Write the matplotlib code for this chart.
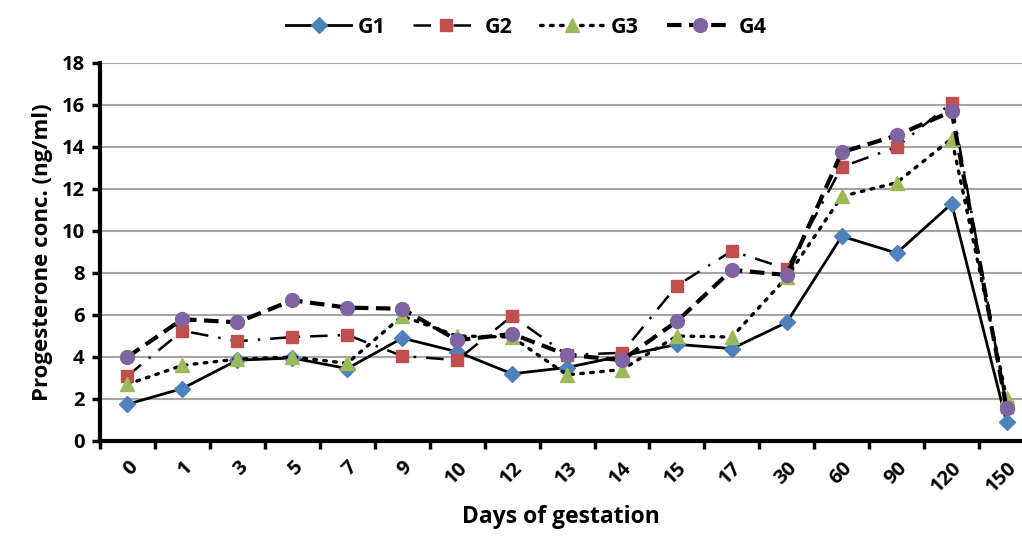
import numpy as np
import matplotlib.pyplot as plt
from matplotlib.ticker import FixedLocator

days = ['0', '1', '3', '5', '7', '9', '10', '12', '13', '14', '15', '17', '30', '60', '90', '120', '150']
g1 = [1.75, 2.5, 3.85, 3.95, 3.45, 4.9, 4.25, 3.2, 3.5, 4.05, 4.6, 4.4, 5.65, 9.75, 8.95, 11.3, 0.9]
g2 = [3.1, 5.25, 4.75, 4.95, 5.05, 4.05, 3.85, 5.95, 4.1, 4.2, 7.4, 9.05, 8.2, 13.05, 14.0, 16.1, 1.6]
g3 = [2.7, 3.6, 3.9, 4.0, 3.7, 5.95, 5.0, 4.95, 3.15, 3.4, 5.0, 4.95, 7.8, 11.65, 12.3, 14.4, 2.05]
g4 = [4.0, 5.8, 5.65, 6.7, 6.35, 6.3, 4.8, 5.1, 4.1, 3.85, 5.7, 8.15, 7.9, 13.75, 14.55, 15.7, 1.55]

plt.rcParams['font.family'] = ['Open Sans', 'DejaVu Sans']
plt.rcParams['font.weight'] = 'bold'

fig = plt.figure(figsize=(10.22, 5.42), dpi=100)
ax = fig.add_axes([100 / 1022, 101 / 542, 922 / 1022, 378 / 542])

x = np.arange(len(days))
ax.plot(x, g1, color='black', lw=2.0, ls='-', marker='D', ms=8,
        mfc='#4F81BD', mec='#4F81BD', label='G1', zorder=3)
ax.plot(x, g2, color='black', lw=1.8, ls=(0, (7, 4, 1, 4)), marker='s', ms=9,
        mfc='#C0504D', mec='#C0504D', label='G2', zorder=3)
ax.plot(x, g3, color='black', lw=2.4, ls=(0, (0.8, 2.2)), dash_capstyle='round', marker='^', ms=10,
        mfc='#9BBB59', mec='#9BBB59', label='G3', zorder=3)
ax.plot(x, g4, color='black', lw=3.0, ls=(0, (3.5, 1.8)), marker='o', ms=10,
        mfc='#8064A2', mec='#8064A2', label='G4', zorder=3)

ax.set_xlim(-0.5, 16.28)
ax.set_ylim(0, 18)
ax.set_yticks(np.arange(0, 19, 2))
ax.yaxis.grid(True, color='#a6a6a6', lw=1.5)
ax.set_axisbelow(True)

ax.set_xticks(x)
ax.set_xticklabels(days, rotation=45, ha='right', rotation_mode='anchor', fontsize=14.5)
ax.xaxis.set_minor_locator(FixedLocator(np.arange(-0.5, 17, 1)))
ax.tick_params(axis='x', which='major', length=0, pad=12)
ax.tick_params(axis='x', which='minor', length=6, width=2.5)
ax.tick_params(axis='y', length=6, width=2.5, labelsize=14.5, pad=5)

for s in ['top', 'right']:
    ax.spines[s].set_visible(False)
for s in ['left', 'bottom']:
    ax.spines[s].set_linewidth(3)

ax.set_xlabel('Days of gestation', fontsize=16.5, fontweight='bold', labelpad=6)
ax.set_ylabel('Progesterone conc. (ng/ml)', fontsize=16, fontweight='bold', labelpad=6)

fig.legend(loc='upper center', bbox_to_anchor=(0.515, 1.005), ncol=4, frameon=False,
           fontsize=15.5, handlelength=3.0, handletextpad=0.3, columnspacing=1.3)

fig.savefig('out.png', dpi=100)
